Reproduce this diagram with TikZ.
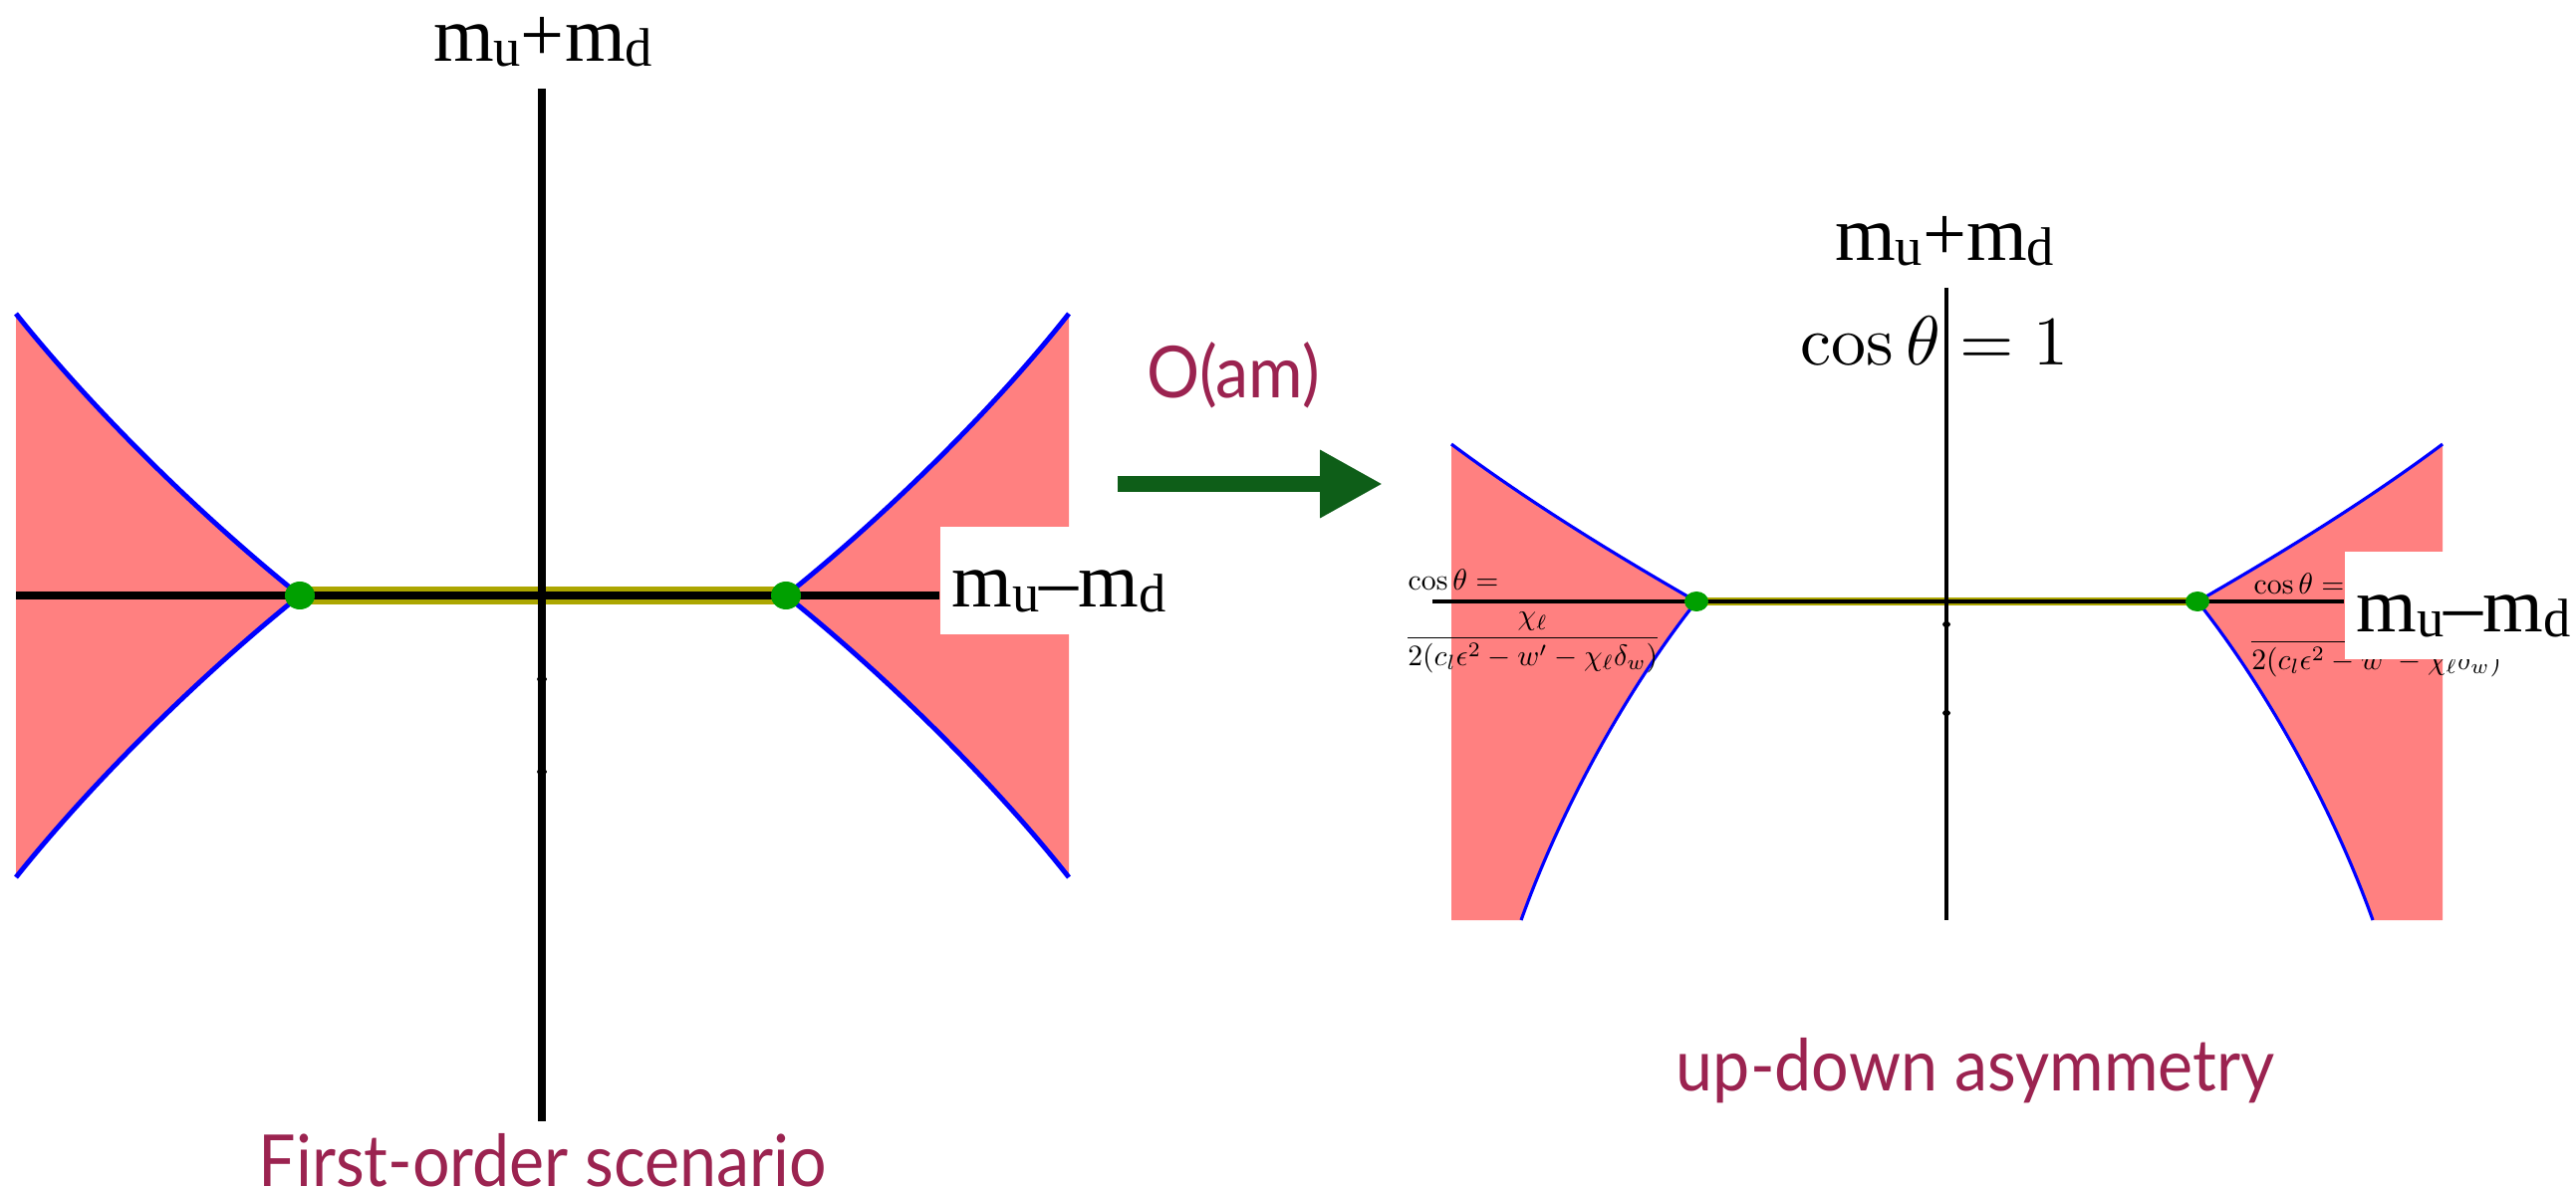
\documentclass[tikz,border=0pt]{standalone}
\usepackage{amsmath}
\usepackage{fontspec}
\usetikzlibrary{arrows.meta}
\newfontfamily\timesf{Liberation Serif}
\newfontfamily\gillf{Lato}
\definecolor{pinkfill}{RGB}{255,128,128}
\definecolor{maroontxt}{RGB}{155,35,80}
\definecolor{arrowgreen}{RGB}{14,94,24}
\definecolor{dotgreen}{RGB}{0,160,0}
\definecolor{bandyellow}{RGB}{172,166,0}
\newcommand\lsub[1]{\raisebox{-1.4pt}{\fontsize{15.5pt}{15.5pt}\selectfont #1}}
\newcommand\axlabel[1]{\timesf\fontsize{22.2pt}{22pt}\selectfont #1}
\newcommand\captxt[1]{\gillf\fontsize{20.5pt}{21pt}\selectfont\scalebox{0.92}[1]{#1}}
\newcommand\smallmath[1]{\scalebox{0.845}{#1}}
\tikzset{
  region/.style={fill=pinkfill},
  bound/.style={blue, line width=1.4pt},
  boundthin/.style={blue, line width=0.9pt},
  axisline/.style={black, line width=2pt},
  axisthin/.style={black, line width=1.2pt},
  band/.style={bandyellow, line width=5.1pt},
  bandthin/.style={bandyellow, line width=2.4pt},
  greendot/.style={fill=dotgreen},
  boxlabel/.style={anchor=base west, fill=white, inner xsep=3.4pt, inner ysep=0pt, text height=23pt, text depth=7.7pt},
  plain/.style={inner sep=0pt},
  caption/.style={inner sep=0pt, anchor=base, text=maroontxt}
}
\begin{document}
\begin{tikzpicture}[x=0.01cm,y=-0.01cm]
\useasboundingbox (0,0) rectangle (2586,1192);
% ---------- left panel ----------
\coordinate (L1) at (301,598);
\coordinate (L2) at (789,598);
\fill[region] (16,315) .. controls (96,415) and (206,522) .. (L1) .. controls (206,674) and (96,781) .. (16,881) -- cycle;
\fill[region] (1073,315) .. controls (994,415) and (884,522) .. (L2) .. controls (884,674) and (994,781) .. (1073,881) -- cycle;
\draw[bound] (16,315) .. controls (96,415) and (206,522) .. (L1) .. controls (206,674) and (96,781) .. (16,881);
\draw[bound] (1073,315) .. controls (994,415) and (884,522) .. (L2) .. controls (884,674) and (994,781) .. (1073,881);
\draw[band] (L1) -- (L2);
\coordinate (LHa) at (16,598);
\coordinate (LVa) at (544,89);
\coordinate (LVb) at (544,1126);
\node[boxlabel] (lx) at (943,610) {\axlabel{m\lsub{u}\textendash m\lsub{d}}};
\draw[axisline] (LHa) -- (lx.west |- LHa);
\draw[axisline] (LVa) -- (LVb);
\fill (544,682) ellipse (5 and 4);
\fill (544,775) ellipse (5 and 4);
\fill[greendot] (L1) ellipse (15 and 14);
\fill[greendot] (L2) ellipse (15 and 14);
\node[plain, anchor=base] (ly) at (545,62) {\axlabel{m\lsub{u}+m\lsub{d}}};
\node[caption] (lcap) at (545,1191) {\captxt{First-order scenario}};
% ---------- arrow ----------
\node[caption] (oam) at (1238,400) {\captxt{O(am)}};
\coordinate (as) at (1122,486);
\coordinate (ae) at (1388,486);
\draw[arrowgreen, line width=4.55pt, -{Triangle[length=17.9pt,width=18.2pt]}] (as) -- (ae);
% ---------- right panel ----------
\coordinate (R1) at (1703,604);
\coordinate (R2) at (2206,604);
\fill[region] (1457,446) .. controls (1540,508) and (1630,562) .. (R1) .. controls (1650,670) and (1575,790) .. (1527,924) -- (1457,924) -- cycle;
\fill[region] (2452,446) .. controls (2369,508) and (2279,562) .. (R2) .. controls (2259,670) and (2334,790) .. (2382,924) -- (2452,924) -- cycle;
\draw[boundthin] (1457,446) .. controls (1540,508) and (1630,562) .. (R1) .. controls (1650,670) and (1575,790) .. (1527,924);
\draw[boundthin] (2452,446) .. controls (2369,508) and (2279,562) .. (R2) .. controls (2259,670) and (2334,790) .. (2382,924);
\draw[bandthin] (R1) -- (R2);
\coordinate (RHa) at (1438,604);
\coordinate (RVa) at (1954,289);
\coordinate (RVb) at (1954,924);
\draw[axisthin] (RVa) -- (RVb);
\fill (1954,627) ellipse (4 and 3);
\fill (1954,716) ellipse (4 and 3);
% formulas
\node[plain, anchor=base west] (fl1) at (1413,593) {\smallmath{$\cos\theta =$}};
\node[plain, anchor=base west] (fl2) at (1409,648) {\smallmath{$\dfrac{\chi_\ell}{2(c_l\epsilon^2-w'-\chi_\ell\delta_w)}$}};
\node[plain, anchor=base west] (fr1) at (2262,597) {\smallmath{$\cos\theta =$}};
\node[plain, anchor=base west] (fr2) at (2256,652) {\smallmath{$\dfrac{\chi_\ell}{2(c_l\epsilon^2-w'-\chi_\ell\delta_w)}$}};
\node[boxlabel] (rx) at (2353,635) {\axlabel{m\lsub{u}\textendash m\lsub{d}}};
\draw[axisthin] (RHa) -- (rx.west |- R1);
\fill[greendot] (R1) ellipse (12 and 10);
\fill[greendot] (R2) ellipse (12 and 10);
\node[plain, anchor=base] (ry) at (1952,262) {\axlabel{m\lsub{u}+m\lsub{d}}};
\node[plain, anchor=base west] (cs) at (1807,367) {\scalebox{1.99}{$\cos\theta = 1$}};
\node[caption] (rcap) at (1983,1095) {\captxt{up-down asymmetry}};
\end{tikzpicture}
\end{document}
